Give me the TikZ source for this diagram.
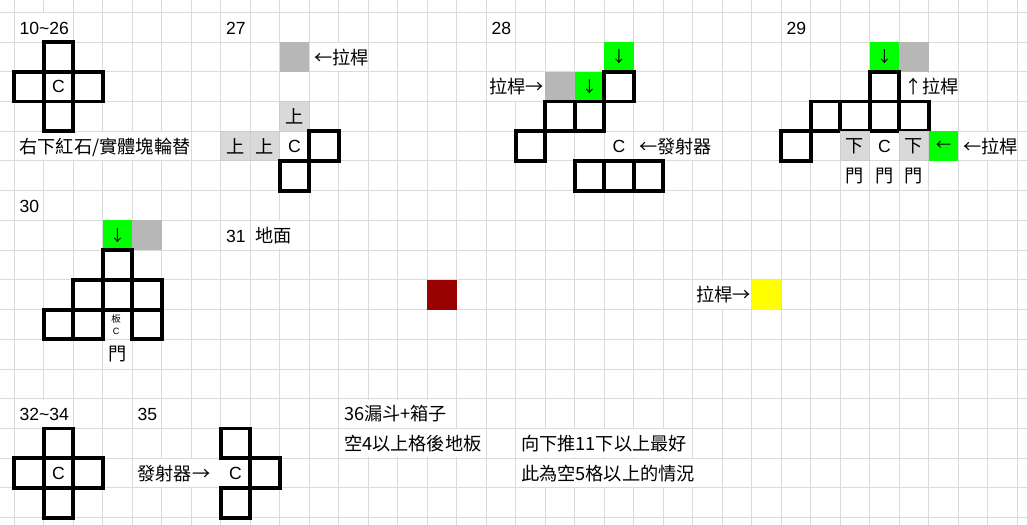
\documentclass[tikz,border=0pt]{standalone}
\usepackage{fontspec}
\setmainfont{Liberation Sans}
\newfontfamily\cjk[Scale=1.035]{Noto Sans CJK TC}
\usepackage{xcolor}
\usepackage{tikz}
\definecolor{gridgray}{HTML}{DADADA}
\definecolor{levergray}{HTML}{B7B7B7}
\definecolor{pistongray}{HTML}{D9D9D9}
\definecolor{powered}{HTML}{00FF00}
\definecolor{blockred}{HTML}{990000}
\definecolor{lampyellow}{HTML}{FFFF00}

\begin{document}
\begin{tikzpicture}[x=0.7375cm, y=-0.74325cm,
    gridline/.style={draw=gridgray, line width=0.7pt},
    cell/.style={minimum width=0.7375cm, minimum height=0.74325cm, inner sep=0pt, outer sep=0pt, font=\fontsize{12.5}{15}\selectfont},
    wall/.style={cell, draw=black, line width=2.7pt},
    lever/.style={cell, fill=levergray},
    piston/.style={cell, fill=pistongray, draw=black!20, line width=0.7pt, font=\fontsize{12.5}{15}\selectfont\cjk},
    power/.style={cell, fill=powered, font=\fontsize{10.5}{12}\selectfont\cjk},
    door/.style={cell, font=\fontsize{12.5}{15}\selectfont\cjk},
    txt/.style={inner sep=0pt, anchor=base west, font=\fontsize{12.5}{15}\selectfont},
    hanzi/.style={txt, font=\fontsize{12.5}{15}\selectfont\cjk}]
      \useasboundingbox (-0.485,-0.414) rectangle (34.33,17.212);
      \clip (-0.485,-0.414) rectangle (34.33,17.212);
      \fill[white] (-0.485,-0.414) rectangle (34.33,17.212);

      % sheet grid
      \foreach \c in {-1,...,35} \draw[gridline] (\c,-1) -- (\c,18);
      \foreach \r in {-1,...,18} \draw[gridline] (-1,\r) -- (35,\r);
      \foreach \r/\a/\b in {0/0/2, 1/10/12, 2/16/18, 2/30/32, 4/0/6, 4/21/24, 4/32/34, 7/8/10, 9/23/25,
                            13/0/2, 13/11/15, 14/11/16, 14/17/23, 15/4/7.5, 15/17/24}
        \fill[white] (\a+0.03,\r+0.03) rectangle (\b-0.03,\r+0.97);

      % 10~26
      \node[txt] (t1026) at (0.17,0.74) {10\textasciitilde 26};
      \node[wall] (a1) at (1.5,1.5) {};
      \node[wall] (a2) at (0.5,2.5) {};
      \node[wall] (a3) at (1.5,2.5) {C};
      \node[wall] (a4) at (2.5,2.5) {};
      \node[wall] (a5) at (1.5,3.5) {};
      \node[hanzi] (note1026) at (0.17,4.74) {右下紅石/實體塊輪替};

      % 27
      \node[txt] (t27) at (7.17,0.74) {27};
      \node[lever] (lever27) at (9.5,1.5) {};
      \node[hanzi] (lbl27) at (10.17,1.74) {←拉桿};
      \node[piston] (up27a) at (9.5,3.5) {上};
      \node[piston] (up27b) at (7.5,4.5) {上};
      \node[piston] (up27c) at (8.5,4.5) {上};
      \node[cell] (c27) at (9.5,4.5) {C};
      \node[wall] (b1) at (10.5,4.5) {};
      \node[wall] (b2) at (9.5,5.5) {};

      % 28
      \node[txt] (t28) at (16.17,0.74) {28};
      \node[power] (pw28a) at (20.5,1.5) {↓};
      \node[hanzi, anchor=base east] (lbl28a) at (17.97,2.74) {拉桿→};
      \node[lever] (lever28) at (18.5,2.5) {};
      \node[power] (pw28b) at (19.5,2.5) {↓};
      \node[wall] (d1) at (20.5,2.5) {};
      \node[wall] (d2) at (18.5,3.5) {};
      \node[wall] (d3) at (19.5,3.5) {};
      \node[wall] (d4) at (17.5,4.5) {};
      \node[cell] (c28) at (20.5,4.5) {C};
      \node[hanzi] (lbl28b) at (21.17,4.74) {←發射器};
      \node[wall] (d5) at (19.5,5.5) {};
      \node[wall] (d6) at (20.5,5.5) {};
      \node[wall] (d7) at (21.5,5.5) {};

      % 29
      \node[txt] (t29) at (26.17,0.74) {29};
      \node[power] (pw29a) at (29.5,1.5) {↓};
      \node[lever] (lever29) at (30.5,1.5) {};
      \node[wall] (e1) at (29.5,2.5) {};
      \node[hanzi] (lbl29a) at (30.17,2.74) {↑拉桿};
      \node[wall] (e2) at (27.5,3.5) {};
      \node[wall] (e3) at (28.5,3.5) {};
      \node[wall] (e4) at (29.5,3.5) {};
      \node[wall] (e5) at (30.5,3.5) {};
      \node[wall] (e6) at (26.5,4.5) {};
      \node[piston] (dn29a) at (28.5,4.5) {下};
      \node[cell] (c29) at (29.5,4.5) {C};
      \node[piston] (dn29b) at (30.5,4.5) {下};
      \node[power] (pw29b) at (31.5,4.5) {←};
      \node[hanzi] (lbl29b) at (32.17,4.74) {←拉桿};
      \node[door] (door29a) at (28.5,5.5) {門};
      \node[door] (door29b) at (29.5,5.5) {門};
      \node[door] (door29c) at (30.5,5.5) {門};

      % 30
      \node[txt] (t30) at (0.17,6.74) {30};
      \node[power] (pw30) at (3.5,7.5) {↓};
      \node[lever] (lever30) at (4.5,7.5) {};
      \node[wall] (f1) at (3.5,8.5) {};
      \node[wall] (f2) at (2.5,9.5) {};
      \node[wall] (f3) at (3.5,9.5) {};
      \node[wall] (f4) at (4.5,9.5) {};
      \node[wall] (f5) at (1.5,10.5) {};
      \node[wall] (f6) at (2.5,10.5) {};
      \node[cell, align=center, font=\fontsize{6.5}{8}\selectfont] (c30) at (3.45,10.5) {{\cjk 板}\\C};
      \node[wall] (f7) at (4.5,10.5) {};
      \node[door] (door30) at (3.5,11.5) {門};

      % 31
      \node[txt] (t31) at (7.17,7.74) {31};
      \node[hanzi] (lbl31) at (8.17,7.74) {地面};
      \node[cell, fill=blockred] (redstone) at (14.5,9.5) {};
      \node[hanzi, anchor=base east] (lbl31b) at (24.97,9.74) {拉桿→};
      \node[cell, fill=lampyellow] (lamp) at (25.5,9.5) {};

      % 32~34
      \node[txt] (t3234) at (0.17,13.74) {32\textasciitilde 34};
      \node[wall] (g1) at (1.5,14.5) {};
      \node[wall] (g2) at (0.5,15.5) {};
      \node[wall] (g3) at (1.5,15.5) {C};
      \node[wall] (g4) at (2.5,15.5) {};
      \node[wall] (g5) at (1.5,16.5) {};

      % 35
      \node[txt] (t35) at (4.17,13.74) {35};
      \node[hanzi] (lbl35) at (4.17,15.74) {發射器→};
      \node[wall] (h1) at (7.5,14.5) {};
      \node[cell] (c35) at (7.5,15.5) {C};
      \node[wall] (h2) at (8.5,15.5) {};
      \node[wall] (h3) at (7.5,16.5) {};

      % 36
      \node[hanzi] (t36) at (11.17,13.74) {36漏斗+箱子};
      \node[hanzi] (note36a) at (11.17,14.74) {空4以上格後地板};
      \node[hanzi] (note36b) at (17.17,14.74) {向下推11下以上最好};
      \node[hanzi] (note36c) at (17.17,15.74) {此為空5格以上的情況};
\end{tikzpicture}
\end{document}
